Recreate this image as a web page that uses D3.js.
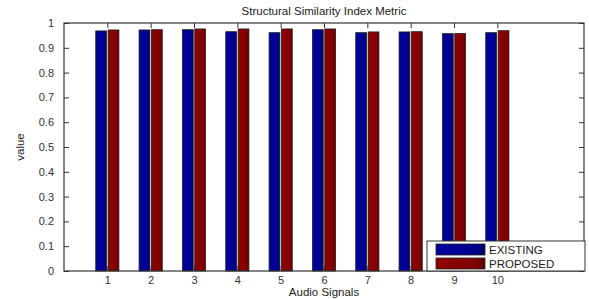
<!DOCTYPE html>
<html>
<head>
<meta charset="utf-8">
<script src="https://cdn.jsdelivr.net/npm/d3@7"></script>
<style>
  body { margin: 0; background: #fff; }
  text { font-family: "Liberation Sans", Arial, sans-serif; fill: #222; }
</style>
</head>
<body>
<svg id="chart" width="589" height="299"></svg>
<script>
// chart values
var signals = [1, 2, 3, 4, 5, 6, 7, 8, 9, 10];
var existing = [0.968, 0.972, 0.973, 0.965, 0.961, 0.973, 0.961, 0.964, 0.957, 0.961];
var proposed = [0.972, 0.973, 0.976, 0.976, 0.976, 0.976, 0.964, 0.965, 0.958, 0.969];
var seriesNames = ["EXISTING", "PROPOSED"];
var seriesColors = ["#00008f", "#800000"];
var yTicks = [0, 0.1, 0.2, 0.3, 0.4, 0.5, 0.6, 0.7, 0.8, 0.9, 1];

var svg = d3.select("#chart");
// note: "top" is taken by window.top, so use other names
var axLeft = 64, axRight = 584, axTop = 23, axBottom = 271;

var x = d3.scaleLinear().domain([0, 12]).range([axLeft, axRight]);
var y = d3.scaleLinear().domain([0, 1]).range([axBottom, axTop]);

// gradient look for the bars
var defs = svg.append("defs");
seriesColors.forEach(function(c, i) {
  var g = defs.append("linearGradient").attr("id", "grad" + i)
    .attr("x1", "0%").attr("x2", "100%").attr("y1", "0%").attr("y2", "0%");
  g.append("stop").attr("offset", "0%").attr("stop-color", d3.color(c).brighter(0.3));
  g.append("stop").attr("offset", "80%").attr("stop-color", c);
  g.append("stop").attr("offset", "100%").attr("stop-color", d3.color(c).darker(1));
});

// bars
var barW = 0.25, gap = 0.035;
var series = [existing, proposed];
series.forEach(function(vals, s) {
  svg.append("g").selectAll("rect")
    .data(vals)
    .enter().append("rect")
      .attr("x", function(d, i) {
        return s === 0 ? x(signals[i] - barW - gap / 2) : x(signals[i] + gap / 2);
      })
      .attr("width", x(barW) - x(0))
      .attr("y", function(d) { return y(d); })
      .attr("height", function(d) { return y(0) - y(d); })
      .style("fill", "url(#grad" + s + ")")
      .style("stroke", "#222")
      .style("stroke-width", 0.8);
});

// box
svg.append("rect")
  .attr("x", axLeft).attr("y", axTop)
  .attr("width", axRight - axLeft).attr("height", axBottom - axTop)
  .style("fill", "none").style("stroke", "#333").style("stroke-width", 1.2);

// axes with inward ticks
var yAxis = d3.axisLeft(y).tickValues(yTicks).tickSize(-5).tickPadding(10)
  .tickFormat(function(d) { return d === 0 || d === 1 ? d : d3.format(".1f")(d); });
svg.append("g").attr("transform", "translate(" + axLeft + ",0)").call(yAxis)
  .call(function(g) { g.select(".domain").remove(); });
svg.append("g").attr("transform", "translate(" + axRight + ",0)")
  .call(d3.axisRight(y).tickValues(yTicks).tickSize(-5).tickFormat(""))
  .call(function(g) { g.select(".domain").remove(); });

var xAxis = d3.axisBottom(x).tickValues(signals).tickSize(-5).tickPadding(8);
svg.append("g").attr("transform", "translate(0," + axBottom + ")").call(xAxis)
  .call(function(g) { g.select(".domain").remove(); });
svg.append("g").attr("transform", "translate(0," + axTop + ")")
  .call(d3.axisTop(x).tickValues(signals).tickSize(-5).tickFormat(""))
  .call(function(g) { g.select(".domain").remove(); });

svg.selectAll(".tick line").style("stroke", "#333");
svg.selectAll(".tick text").style("font-size", "11px").style("fill", "#333")
  .style("font-family", "'Liberation Sans', Arial, sans-serif");
// x tick labels sit a bit higher than d3's default
svg.selectAll(".tick text").filter(function() { return d3.select(this).attr("dy") === "0.71em"; })
  .attr("y", 5);

// titles
svg.append("text").attr("x", (axLeft + axRight) / 2).attr("y", 15)
  .attr("text-anchor", "middle").style("font-size", "11.5px")
  .text("Structural Similarity Index Metric");
svg.append("text").attr("x", (axLeft + axRight) / 2).attr("y", 296)
  .attr("text-anchor", "middle").style("font-size", "11.5px")
  .text("Audio Signals");
svg.append("text").attr("transform", "translate(24," + ((axTop + axBottom) / 2) + ") rotate(-90)")
  .attr("text-anchor", "middle").style("font-size", "11.5px")
  .text("value");

// legend
var lg = svg.append("g").attr("transform", "translate(427,241)");
lg.append("rect").attr("width", 158).attr("height", 30)
  .style("fill", "#fff").style("stroke", "#333").style("stroke-width", 1);
seriesNames.forEach(function(name, i) {
  lg.append("rect").attr("x", 9).attr("y", 3 + i * 14)
    .attr("width", 49).attr("height", 11)
    .style("fill", "url(#grad" + i + ")").style("stroke", "#222").style("stroke-width", 0.8);
  lg.append("text").attr("x", 62).attr("y", 13 + i * 14)
    .style("font-size", "11.5px").text(name);
});
</script>
</body>
</html>
